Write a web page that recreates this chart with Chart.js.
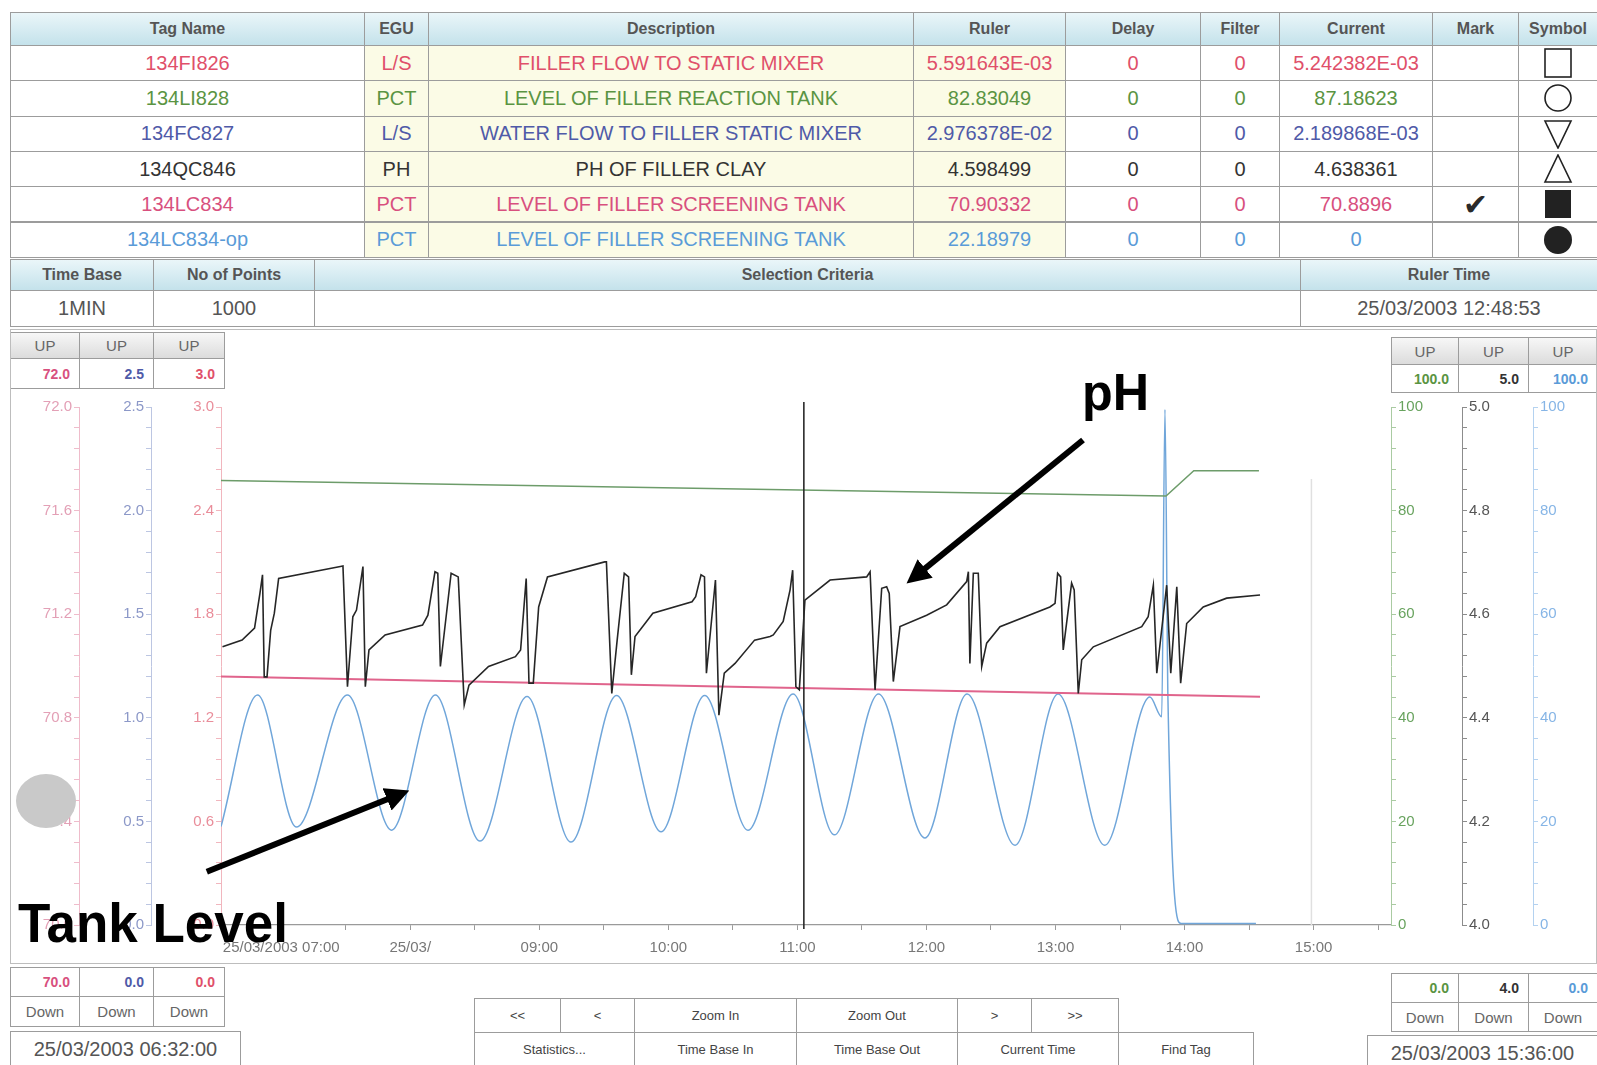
<!DOCTYPE html>
<html>
<head>
<meta charset="utf-8">
<title>Trend - 134 Filler</title>
<script src="https://cdn.jsdelivr.net/npm/chart.js@4.4.1/dist/chart.umd.min.js"></script>
<style>
  body { margin:0; width:1597px; height:1065px; overflow:hidden; position:relative; background:#fff;
         font-family:'Liberation Sans', Arial, sans-serif; }
  .c { position:absolute; box-sizing:border-box; border:1px solid #9c9c9c; display:flex;
       align-items:center; justify-content:center; white-space:nowrap; overflow:hidden; background:#fff; }
  .hd { background:linear-gradient(#eaf6f9,#c4e2eb); font-weight:bold; font-size:16px; color:#555; }
  .pale { background:#fbfbe6; }
  .txt { font-size:20px; }
  .pen { background:linear-gradient(#f7f7f7,#dcdcdc); font-size:15px; color:#666; }
  .down { font-size:15px; color:#666; }
  .val { font-size:14px; font-weight:bold; justify-content:flex-end; padding-right:9px; }
  .date { font-size:20px; color:#555; }
  .btn { font-size:13px; color:#444; }
  .mark { font-family:'DejaVu Sans', sans-serif; font-size:30px; color:#2a2a2a; }
  #frame { position:absolute; left:10px; top:329px; width:1587px; height:635px; border:1px solid #bdbdbd; box-sizing:border-box; }
  #chartBox { position:absolute; left:10px; top:392px; width:1587px; height:571px; }
  #blob { position:absolute; left:16px; top:774px; width:60px; height:54px; border-radius:50%; background:#c9c9c9; }
  #overlay { position:absolute; left:0; top:0; pointer-events:none; }
</style>
</head>
<body>
<div id="frame"></div>
<div id="chartBox"><canvas id="trend"></canvas></div>
<div id="blob"></div>
<svg id="overlay" width="1597" height="1065">
  <defs>
    <marker id="ah" markerWidth="4" markerHeight="4" refX="2.5" refY="2" orient="auto" markerUnits="strokeWidth">
      <path d="M0,0 L4,2 L0,4 z" fill="#000"/>
    </marker>
  </defs>
  <line x1="1083" y1="440" x2="913.5" y2="577.9" stroke="#000" stroke-width="6" marker-end="url(#ah)"/>
  <line x1="206.8" y1="871.8" x2="401" y2="793.8" stroke="#000" stroke-width="6" marker-end="url(#ah)"/>
  <text x="1082" y="410" font-family="Liberation Sans, Arial, sans-serif" font-size="52" font-weight="bold" textLength="67" lengthAdjust="spacingAndGlyphs">pH</text>
  <text x="18" y="942" font-family="Liberation Sans, Arial, sans-serif" font-size="56" font-weight="bold" textLength="270" lengthAdjust="spacingAndGlyphs">Tank Level</text>
</svg>

<script>
// --- Tag table ---
const tagNames = ['134FI826', '134LI828', '134FC827', '134QC846', '134LC834', '134LC834-op'];
const egus = ['L/S', 'PCT', 'L/S', 'PH', 'PCT', 'PCT'];
const descriptions = [
    'FILLER FLOW TO STATIC MIXER',
    'LEVEL OF FILLER REACTION TANK',
    'WATER FLOW TO FILLER STATIC MIXER',
    'PH OF FILLER CLAY',
    'LEVEL OF FILLER SCREENING TANK',
    'LEVEL OF FILLER SCREENING TANK'
];
const rulerValues = ['5.591643E-03', '82.83049', '2.976378E-02', '4.598499', '70.90332', '22.18979'];
const delays = ['0', '0', '0', '0', '0', '0'];
const filters = ['0', '0', '0', '0', '0', '0'];
const currents = ['5.242382E-03', '87.18623', '2.189868E-03', '4.638361', '70.8896', '0'];
const marks = ['', '', '', '', '✔', ''];
const symbols = ['square', 'circle', 'triDown', 'triUp', 'squareFill', 'circleFill'];
const penColors = ['#e0506a', '#5a9442', '#4f5aa8', '#333333', '#d8507e', '#5a9bd8'];

const headers = ['Tag Name', 'EGU', 'Description', 'Ruler', 'Delay', 'Filter', 'Current', 'Mark', 'Symbol'];
const timeBaseHeaders = ['Time Base', 'No of Points', 'Selection Criteria', 'Ruler Time'];
const timeBaseValues = ['1MIN', '1000', '', '25/03/2003 12:48:53'];

// pen scale limits (left: 134LC834, 134FC827, 134FI826 / right: 134LI828, 134QC846, 134LC834-op)
const leftUp = ['72.0', '2.5', '3.0'];
const leftDown = ['70.0', '0.0', '0.0'];
const leftPenColors = ['#d8507e', '#4f5aa8', '#e0506a'];
const rightUp = ['100.0', '5.0', '100.0'];
const rightDown = ['0.0', '4.0', '0.0'];
const rightPenColors = ['#5a9442', '#333333', '#5a9bd8'];
const startTimeText = '25/03/2003 06:32:00';
const endTimeText = '25/03/2003 15:36:00';

const buttonsRow1 = ['<<', '<', 'Zoom In', 'Zoom Out', '>', '>>'];
const buttonsRow2 = ['Statistics...', 'Time Base In', 'Time Base Out', 'Current Time', 'Find Tag'];

// --- Trend data (minutes since midnight, 25/03/2003) ---
const timeStart = 392;   // 06:32
const timeEnd = 936;     // 15:36
const rulerMinute = 663;
const currentMinute = 899;

const xLabelMinutes = [420, 480, 540, 600, 660, 720, 780, 840, 900];
const xLabelTexts = ['25/03/2003 07:00', '25/03/', '09:00', '10:00', '11:00', '12:00', '13:00', '14:00', '15:00'];

// 134QC846 pH
const phMinutes = [
    392.7, 401.8, 407.6, 410.1, 411.3, 412.1, 413.4, 415.1, 416.8, 418.8,
    447.5, 448.7, 450.8, 453.3, 455.0, 458.0, 459.1, 460.8, 468.3, 485.7,
    488.2, 491.5, 492.8, 494.0, 499.0, 502.3, 505.1, 507.3, 516.4, 528.9,
    531.3, 533.9, 535.2, 537.2, 539.7, 543.8, 570.4, 571.2, 573.7, 576.2,
    579.5, 581.5, 582.8, 584.5, 592.8, 611.0, 612.7, 615.2, 616.8, 617.7,
    621.9, 623.5, 626.0, 631.0, 640.1, 647.3, 648.8, 653.4, 656.6, 657.8,
    659.3, 660.9, 663.5, 675.2, 692.2, 693.8, 696.1, 699.2, 701.5, 702.7,
    704.6, 707.7, 720.1, 729.4, 738.7, 739.5, 740.2, 741.8, 744.1, 745.7,
    748.0, 754.2, 777.4, 779.8, 781.0, 782.4, 783.6, 787.5, 788.7, 790.6,
    792.2, 797.6, 820.1, 823.1, 825.5, 827.1, 831.7, 833.6, 836.4, 838.2,
    841.0, 848.7, 859.6, 875.1
];
const phValues = [
    4.537, 4.550, 4.573, 4.640, 4.676, 4.479, 4.479, 4.569, 4.602, 4.669,
    4.692, 4.693, 4.460, 4.595, 4.608, 4.692, 4.460, 4.531, 4.560, 4.579,
    4.598, 4.682, 4.679, 4.499, 4.679, 4.672, 4.425, 4.463, 4.499, 4.518,
    4.531, 4.669, 4.467, 4.467, 4.614, 4.672, 4.701, 4.701, 4.447, 4.550,
    4.679, 4.672, 4.483, 4.557, 4.602, 4.624, 4.634, 4.676, 4.672, 4.486,
    4.666, 4.405, 4.486, 4.505, 4.550, 4.557, 4.560, 4.586, 4.647, 4.685,
    4.460, 4.454, 4.627, 4.666, 4.672, 4.682, 4.454, 4.650, 4.653, 4.640,
    4.470, 4.576, 4.598, 4.618, 4.663, 4.682, 4.505, 4.679, 4.679, 4.499,
    4.544, 4.576, 4.614, 4.621, 4.679, 4.672, 4.531, 4.660, 4.647, 4.447,
    4.512, 4.537, 4.576, 4.595, 4.656, 4.486, 4.656, 4.486, 4.653, 4.467,
    4.582, 4.614, 4.631, 4.637
];

// 134LC834-op (peaks and troughs)
const opMinutes = [392, 409.0, 427.1, 450.8, 471.3, 491.7, 512.4, 534.3, 554.7, 575.9, 596.6, 616.9, 637.0,
    658.0, 677.2, 697.7, 719.3, 738.9, 761.2, 781.2, 802.9, 823.9, 829.4, 830.9, 832.3, 838.4, 873.2];
const opValues = [19.0, 44.4, 18.9, 44.4, 18.3, 44.4, 16.2, 44.1, 16.0, 44.3, 18.0, 44.3, 18.3,
    44.6, 17.4, 44.6, 16.8, 44.6, 15.4, 44.6, 15.4, 44.0, 40.2, 99.5, 43.4, 0.3, 0.3];

// 134LI828 reaction tank level
const reactionMinutes = [392, 831.4, 844.3, 874.6];
const reactionValues = [85.8, 82.8, 87.7, 87.7];

// 134LC834 screening tank level
const screeningMinutes = [392, 629.6, 875.1];
const screeningValues = [70.959, 70.920, 70.881];

// --- Build the HTML panels ---
function cell(x1, y1, x2, y2, html, cls, color) {
    const d = document.createElement('div');
    d.className = 'c ' + (cls || '');
    d.style.left = x1 + 'px';
    d.style.top = y1 + 'px';
    d.style.width = (x2 - x1 + 1) + 'px';
    d.style.height = (y2 - y1 + 1) + 'px';
    if (color) d.style.color = color;
    d.innerHTML = html;
    document.body.insertBefore(d, document.getElementById('frame'));
    return d;
}

function esc(s) {
    return s.replace(/&/g, '&amp;').replace(/</g, '&lt;').replace(/>/g, '&gt;');
}

const symbolSvg = {
    square: '<rect x="2" y="1" width="26" height="28" fill="none" stroke="#222" stroke-width="1.6"/>',
    circle: '<circle cx="15" cy="15" r="13" fill="none" stroke="#222" stroke-width="1.6"/>',
    triDown: '<polygon points="2,2 28,2 15,29" fill="none" stroke="#222" stroke-width="1.6"/>',
    triUp: '<polygon points="15,1 28,28 2,28" fill="none" stroke="#222" stroke-width="1.6"/>',
    squareFill: '<rect x="2" y="1" width="26" height="28" fill="#222"/>',
    circleFill: '<circle cx="15" cy="15" r="14" fill="#222"/>'
};

const colEdges = [10, 364, 428, 913, 1065, 1200, 1279, 1432, 1518, 1597];
headers.forEach((h, i) => cell(colEdges[i], 12, colEdges[i + 1], 45, h, 'hd'));
for (let r = 0; r < tagNames.length; r++) {
    const y1 = 45 + r * 35.3, y2 = y1 + 35.3;
    const row = [tagNames[r], egus[r], descriptions[r], rulerValues[r], delays[r], filters[r], currents[r]];
    row.forEach((v, i) => cell(colEdges[i], y1, colEdges[i + 1], y2, esc(v),
        'txt' + ((i >= 1 && i <= 3) ? ' pale' : ''), penColors[r]));
    cell(colEdges[7], y1, colEdges[8], y2, marks[r], 'mark');
    cell(colEdges[8], y1, colEdges[9], y2, '<svg width="30" height="30">' + symbolSvg[symbols[r]] + '</svg>', '');
}

const tbEdges = [10, 153, 314, 1300, 1597];
timeBaseHeaders.forEach((h, i) => cell(tbEdges[i], 259, tbEdges[i + 1], 290, h, 'hd'));
timeBaseValues.forEach((v, i) => cell(tbEdges[i], 290, tbEdges[i + 1], 326, v, 'txt', '#555'));

const leftPenEdges = [10, 79, 153, 224];
const rightPenEdges = [1391, 1458, 1528, 1597];
for (let i = 0; i < 3; i++) {
    cell(leftPenEdges[i], 332, leftPenEdges[i + 1], 358, 'UP', 'pen');
    cell(leftPenEdges[i], 358, leftPenEdges[i + 1], 388, leftUp[i], 'val', leftPenColors[i]);
    cell(leftPenEdges[i], 967, leftPenEdges[i + 1], 996, leftDown[i], 'val', leftPenColors[i]);
    cell(leftPenEdges[i], 996, leftPenEdges[i + 1], 1026, 'Down', 'down');
    cell(rightPenEdges[i], 337, rightPenEdges[i + 1], 364, 'UP', 'pen');
    cell(rightPenEdges[i], 364, rightPenEdges[i + 1], 392, rightUp[i], 'val', rightPenColors[i]);
    cell(rightPenEdges[i], 973, rightPenEdges[i + 1], 1002, rightDown[i], 'val', rightPenColors[i]);
    cell(rightPenEdges[i], 1002, rightPenEdges[i + 1], 1031, 'Down', 'down');
}
cell(10, 1031, 240, 1066, startTimeText, 'date');
cell(1367, 1035, 1597, 1070, endTimeText, 'date');

const btnEdges1 = [474, 560, 634, 796, 957, 1031, 1118];
const btnEdges2 = [474, 634, 796, 957, 1118, 1253];
buttonsRow1.forEach((b, i) => cell(btnEdges1[i], 998, btnEdges1[i + 1], 1032, esc(b), 'btn'));
buttonsRow2.forEach((b, i) => cell(btnEdges2[i], 1032, btnEdges2[i + 1], 1066, esc(b), 'btn'));

// --- Chart ---
Chart.defaults.font.family = "'Liberation Sans', Arial, sans-serif";
const axisFont = { size: 15 };

function yAxis(position, min, max, weight, width, labelColor, lineColor, decimals) {
    return {
        type: 'linear', position: position, min: min, max: max, weight: weight,
        afterFit: s => { s.width = width; },
        afterBuildTicks: s => {
            const t = [];
            for (let i = 0; i <= 25; i++) t.push({ value: min + (max - min) * i / 25 });
            s.ticks = t;
        },
        ticks: {
            color: labelColor, font: axisFont, padding: 2, autoSkip: false,
            callback: (v, i) => (i % 5 === 0 ? Number(v).toFixed(decimals) : '')
        },
        grid: { drawOnChartArea: false, drawTicks: true, tickLength: 5, color: lineColor },
        border: { display: true, color: lineColor, width: 1 }
    };
}

function points(xs, ys) {
    return xs.map((x, i) => ({ x: x, y: ys[i] }));
}

const rulerPlugin = {
    id: 'ruler',
    afterDatasetsDraw(chart) {
        const { ctx, chartArea, scales } = chart;
        const xc = scales.x.getPixelForValue(currentMinute);
        const xr = scales.x.getPixelForValue(rulerMinute);
        ctx.save();
        ctx.strokeStyle = '#e0e0e0';
        ctx.lineWidth = 1.5;
        ctx.beginPath();
        ctx.moveTo(xc, chartArea.top + 72);
        ctx.lineTo(xc, chartArea.bottom);
        ctx.stroke();
        ctx.strokeStyle = '#2b2b2b';
        ctx.lineWidth = 1.6;
        ctx.beginPath();
        ctx.moveTo(xr, chartArea.top - 5);
        ctx.lineTo(xr, chartArea.bottom + 4);
        ctx.stroke();
        ctx.restore();
    }
};

const chart = new Chart(document.getElementById('trend').getContext('2d'), {
    type: 'line',
    data: {
        datasets: [
            { label: '134QC846', data: points(phMinutes, phValues), yAxisID: 'yE',
              borderColor: '#262626', borderWidth: 1.6, tension: 0 },
            { label: '134LC834', data: points(screeningMinutes, screeningValues), yAxisID: 'yA',
              borderColor: '#e0648c', borderWidth: 2, tension: 0 },
            { label: '134LI828', data: points(reactionMinutes, reactionValues), yAxisID: 'yD',
              borderColor: '#6d9c6a', borderWidth: 1.5, tension: 0 },
            { label: '134LC834-op', data: points(opMinutes, opValues), yAxisID: 'yF',
              borderColor: '#70a6da', borderWidth: 1.5, cubicInterpolationMode: 'monotone' }
        ]
    },
    options: {
        responsive: true,
        maintainAspectRatio: false,
        animation: false,
        devicePixelRatio: 1,
        layout: { padding: { top: 15, left: 0, right: 0, bottom: 0 } },
        elements: { point: { radius: 0 } },
        plugins: { legend: { display: false }, tooltip: { enabled: false } },
        scales: {
            x: {
                type: 'linear', min: timeStart, max: timeEnd,
                afterFit: s => { s.height = 38; },
                afterBuildTicks: s => {
                    const t = [];
                    for (let m = 420; m <= 930; m += 30) t.push({ value: m });
                    s.ticks = t;
                },
                ticks: {
                    color: '#777', font: axisFont, padding: 9, maxRotation: 0, autoSkip: false,
                    callback: v => {
                        const i = xLabelMinutes.indexOf(v);
                        return i >= 0 ? xLabelTexts[i] : '';
                    }
                },
                grid: { drawOnChartArea: false, tickLength: 5, color: '#9a9a9a' },
                border: { color: '#9a9a9a', width: 1.2 }
            },
            yA: yAxis('left', 70, 72, 3, 69, '#e3a0b6', '#efbccb', 1),
            yB: yAxis('left', 0, 2.5, 2, 72, '#8c98c8', '#bcc6e2', 1),
            yC: yAxis('left', 0, 3, 1, 70, '#e98d9a', '#f1b6be', 1),
            yD: yAxis('right', 0, 100, 1, 71, '#68a35e', '#aacba2', 0),
            yE: yAxis('right', 4, 5, 2, 71, '#555555', '#8c8c8c', 1),
            yF: yAxis('right', 0, 100, 3, 64, '#86b5e6', '#b4d2f0', 0)
        }
    },
    plugins: [rulerPlugin]
});
</script>
</body>
</html>
